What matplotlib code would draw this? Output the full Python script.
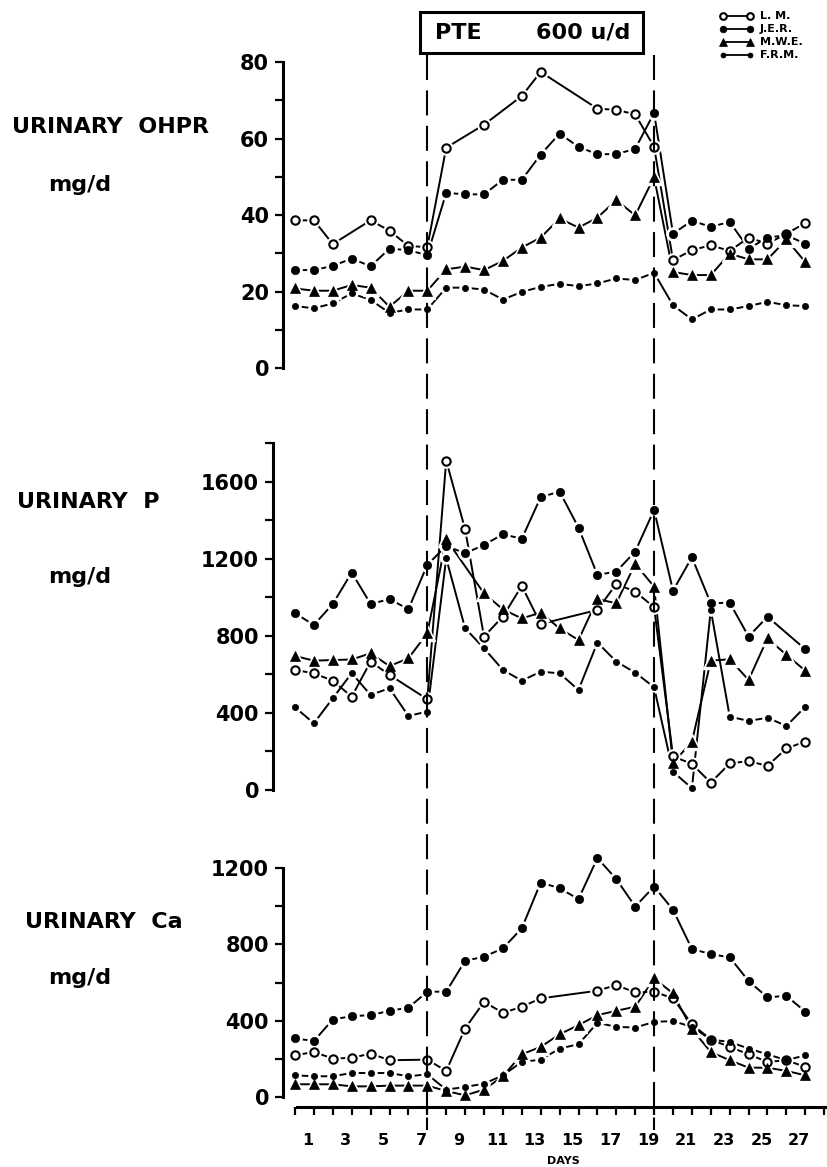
import numpy as np
import matplotlib

matplotlib.use("Agg")

import matplotlib.pyplot as plt
from matplotlib.lines import Line2D
from matplotlib.patches import Rectangle
from matplotlib.transforms import ScaledTranslation, blended_transform_factory

nan = np.nan
days = np.arange(28)
subjects = ["L. M.", "J.E.R.", "M.W.E.", "F.R.M."]

# urinary OHPR, mg/d
ohpr_lm = [38.6, 38.6, 32.4, nan, 38.6, 35.9, 31.9, 31.6, 57.6, nan, 63.6, nan, 71.1, 77.4,
           nan, nan, 67.8, 67.5, 66.3, 57.8, 28.2, 30.8, 32.1, 30.6, 34.1, 32.5, 35.1, 37.9]
ohpr_jer = [25.6, 25.6, 26.7, 28.6, 26.6, 31.2, 30.8, 29.5, 45.8, 45.4, 45.4, 49.2, 49.2, 55.8,
            61.3, 57.8, 55.9, 55.9, 57.3, 66.7, 35.1, 38.5, 36.9, 38.2, 31.2, 34.1, 34.7, 32.5]
ohpr_mwe = [20.8, 20.2, 20.2, 21.7, 21.0, 16.0, 20.2, 20.2, 25.8, 26.5, 25.6, 28.0, 31.5, 34.1,
            39.1, 36.7, 39.3, 43.9, 39.9, 49.9, 25.1, 24.3, 24.3, 29.9, 28.4, 28.4, 33.6, 27.7]
ohpr_frm = [16.2, 15.6, 16.9, 19.5, 17.8, 14.4, 15.3, 15.3, 21.0, 21.0, 20.5, 17.9, 19.9, 21.2,
            22.0, 21.4, 22.1, 23.4, 23.0, 24.9, 16.4, 12.7, 15.3, 15.3, 16.2, 17.3, 16.4, 16.2]

# urinary P, mg/d
p_lm = [623, 605, 567, 484, 666, 597, nan, 471, 1709, 1353, 796, 900, 1059, 861,
        nan, nan, 934, 1069, 1029, 948, 175, 135, 38, 138, 150, 125, 216, 251]
p_jer = [917, 856, 965, 1128, 965, 990, 938, 1168, 1266, 1228, 1271, 1327, 1303, 1519,
         1548, 1361, 1116, 1133, 1237, 1453, 1034, 1207, 968, 972, 796, 899, nan, 730]
p_mwe = [695, 671, 674, 677, 709, 643, 683, 813, 1301, nan, 1020, 937, 890, 920,
         838, 778, 990, 969, 1173, 1055, 140, 251, 671, 678, 571, 787, 701, 619]
p_frm = [429, 346, 476, 606, 493, 528, 384, 407, 1202, 839, 735, 623, 567, 614,
         605, 519, 765, 666, 609, 533, 95, 9, 934, 381, 358, 375, 332, 432]

# urinary Ca, mg/d
ca_lm = [219, 236, 202, 205, 228, 193, nan, 196, 137, 359, 499, 441, 473, 517,
         nan, nan, 557, 587, 548, 552, 517, 382, 301, 263, 224, 184, 193, 158]
ca_jer = [307, 294, 406, 424, 429, 452, 468, 552, 552, 714, 735, 779, 884, 1124,
          1094, 1037, 1252, 1142, 998, 1103, 981, 776, 749, 732, 608, 522, 531, 447]
ca_mwe = [67, 67, 67, 56, 56, 60, 60, 60, 32, 9, 39, 109, 224, 263,
          329, 377, 429, 452, 473, 622, 543, 356, 236, 193, 154, 154, 137, 114]
ca_frm = [114, 109, 109, 126, 126, 126, 109, 119, 39, 53, 70, 114, 184, 196,
          254, 277, 389, 368, 364, 394, 398, 368, 301, 289, 254, 224, 193, 219]

treatment_days = [7, 19]
x_labels = [str(d) if d % 2 else "" for d in range(29)]

STYLES = {
    "L. M.": dict(marker="o", ms=6, mfc="white", mec="black", mew=1.5),
    "J.E.R.": dict(marker="o", ms=6, mfc="black", mec="black", mew=0.5),
    "M.W.E.": dict(marker="^", ms=7.5, mfc="black", mec="black", mew=0.5),
    "F.R.M.": dict(marker="o", ms=4.5, mfc="black", mec="black", mew=0.5),
}

W, H = 827, 1167
X0, DX, X_RIGHT = 295, 18.9, 826

plt.rcParams["font.family"] = "DejaVu Sans"
plt.rcParams["font.weight"] = "bold"

fig = plt.figure(figsize=(W / 100, H / 100), dpi=100)


def add_panel(left, top, bottom):
    ax = fig.add_axes([left / W, 1 - bottom / H, (X_RIGHT - left) / W, (bottom - top) / H])
    ax.set_xlim((left - X0) / DX, (X_RIGHT - X0) / DX)
    for side in ["top", "right"]:
        ax.spines[side].set_visible(False)
    ax.spines["left"].set_linewidth(2.2)
    ax.tick_params(axis="y", which="both", direction="out", length=6, width=1.6,
                   labelsize=15, pad=4)
    return ax


def plot_series(ax, values, style):
    values = np.array(values, dtype=float)
    keep = ~np.isnan(values)
    x, y = days[keep], values[keep]
    ax.plot(x, y, color="black", lw=1.4, zorder=2, clip_on=False)
    ax.plot(x, y, ls="none", marker=style["marker"], ms=style["ms"] + 3.5,
            mfc="white", mec="white", zorder=3, clip_on=False)
    ax.plot(x, y, ls="none", zorder=4, clip_on=False, **style)


ax1 = add_panel(283, 62, 368)
ax1.set_ylim(0, 80)
ax1.set_yticks([0, 20, 40, 60, 80])
ax1.set_yticks([10, 30, 50, 70], minor=True)

ax2 = add_panel(273, 443, 790)
ax2.set_ylim(0, 1800)
ax2.set_yticks([0, 400, 800, 1200, 1600])
ax2.set_yticks([200, 600, 1000, 1400, 1800], minor=True)

ax3 = add_panel(283, 868, 1107)
ax3.set_ylim(-52, 1200)
ax3.set_yticks([0, 400, 800, 1200])
ax3.set_yticks([200, 600, 1000], minor=True)
ax3.spines["left"].set_bounds(0, 1200)
ax3.spines["bottom"].set_linewidth(2.2)
ax3.spines["bottom"].set_bounds(0.1, (X_RIGHT - X0) / DX)
ax3.set_xticks(range(29))
ax3.set_xticklabels(x_labels)
ax3.tick_params(axis="x", direction="out", length=6, width=1.6, labelsize=11.5, pad=13)
for label in ax3.get_xticklabels():
    label.set_transform(label.get_transform() + ScaledTranslation(-0.06, 0, fig.dpi_scale_trans))

for ax in [ax1, ax2]:
    ax.spines["bottom"].set_visible(False)
    ax.set_xticks([])

panels = [
    (ax1, [ohpr_lm, ohpr_jer, ohpr_mwe, ohpr_frm]),
    (ax2, [p_lm, p_jer, p_mwe, p_frm]),
    (ax3, [ca_lm, ca_jer, ca_mwe, ca_frm]),
]
for ax, series in panels:
    for name, values in zip(subjects, series):
        plot_series(ax, values, STYLES[name])

# treatment period markers running through all panels
trans = blended_transform_factory(ax3.transData, fig.transFigure)
for day in treatment_days:
    fig.add_artist(Line2D([day, day], [1 - 55 / H, 1 - 1130 / H], transform=trans,
                          color="black", lw=1.5, ls=(0, (12, 5))))

fig.add_artist(Rectangle((420 / W, 1 - 53 / H), 223 / W, 41 / H, transform=fig.transFigure,
                         fill=False, lw=2.2, ec="black"))
fig.text(458 / W, 1 - 33 / H, "PTE", fontsize=16, ha="center", va="center")
fig.text(583 / W, 1 - 33 / H, "600 u/d", fontsize=16, ha="center", va="center")

# legend drawn by hand, top right
for i, name in enumerate(subjects):
    y = 1 - (16 + 13 * i) / H
    style = dict(STYLES[name])
    style["ms"] = style["ms"] * 0.8
    fig.add_artist(Line2D([723 / W, 750 / W], [y, y], transform=fig.transFigure,
                          color="black", lw=1.3, **style))
    fig.text(760 / W, y, name, fontsize=8, ha="left", va="center")

titles = [("URINARY  OHPR", 12, 127, 185), ("URINARY  P", 17, 502, 577), ("URINARY  Ca", 25, 922, 978)]
for title, x, y_title, y_unit in titles:
    fig.text(x / W, 1 - y_title / H, title, fontsize=16, ha="left", va="center")
    fig.text(80 / W, 1 - y_unit / H, "mg/d", fontsize=16, ha="center", va="center")

fig.text(563 / W, 1 - 1161 / H, "DAYS", fontsize=8, ha="center", va="center")

fig.savefig("out.png", dpi=100)
